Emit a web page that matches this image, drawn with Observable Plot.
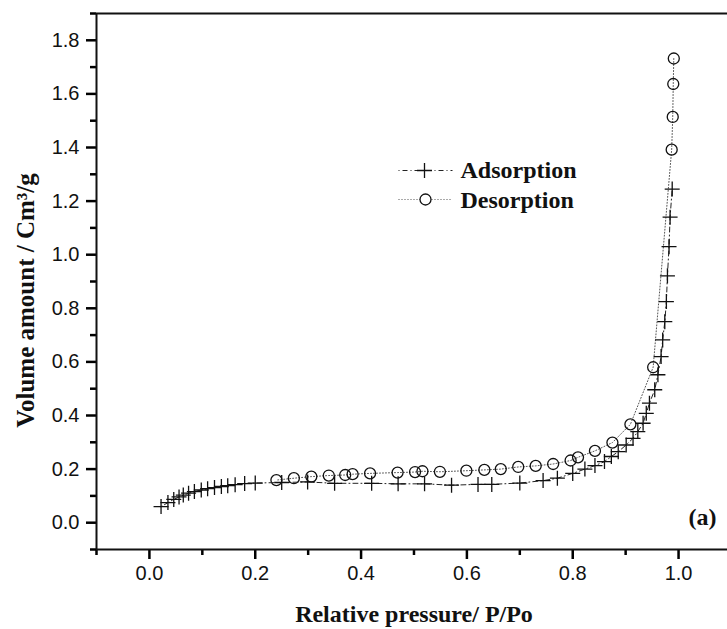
<!DOCTYPE html>
<html>
<head>
<meta charset="utf-8">
<script src="https://cdn.jsdelivr.net/npm/d3@7"></script>
<script src="https://cdn.jsdelivr.net/npm/@observablehq/plot@0.6"></script>
<style>
  html, body { margin: 0; padding: 0; background: #fff; }
</style>
</head>
<body>
<div id="chart"></div>
<script>
// N2 isotherm: relative pressure P/Po vs adsorbed volume (cm3/g)
const adsorptionP = [0.022, 0.035, 0.046, 0.056, 0.064, 0.074, 0.085, 0.098, 0.110, 0.123,
  0.136, 0.148, 0.162, 0.180, 0.200, 0.250, 0.299, 0.350, 0.420, 0.470, 0.520, 0.571,
  0.621, 0.647, 0.700, 0.744, 0.771, 0.800, 0.823, 0.842, 0.860, 0.873, 0.886, 0.901,
  0.914, 0.923, 0.933, 0.939, 0.945, 0.955, 0.961, 0.967, 0.970, 0.974, 0.977, 0.979,
  0.982, 0.984, 0.988];
const adsorptionV = [0.060, 0.075, 0.087, 0.096, 0.103, 0.110, 0.116, 0.122, 0.127, 0.131,
  0.135, 0.138, 0.142, 0.146, 0.148, 0.150, 0.152, 0.147, 0.147, 0.145, 0.145, 0.140,
  0.143, 0.143, 0.148, 0.157, 0.166, 0.184, 0.200, 0.213, 0.228, 0.247, 0.265, 0.290,
  0.315, 0.340, 0.371, 0.408, 0.446, 0.496, 0.552, 0.620, 0.682, 0.750, 0.825, 0.921,
  1.030, 1.140, 1.245];

const desorptionP = [0.991, 0.990, 0.989, 0.987, 0.952, 0.909, 0.875, 0.842, 0.810, 0.796,
  0.763, 0.730, 0.697, 0.664, 0.633, 0.599, 0.549, 0.516, 0.502, 0.469, 0.417, 0.384,
  0.370, 0.339, 0.306, 0.273, 0.240];
const desorptionV = [1.732, 1.637, 1.514, 1.392, 0.580, 0.367, 0.299, 0.268, 0.244, 0.232,
  0.219, 0.212, 0.208, 0.200, 0.197, 0.194, 0.190, 0.192, 0.189, 0.187, 0.184, 0.181,
  0.178, 0.176, 0.172, 0.166, 0.159];

const seriesNames = ["Adsorption", "Desorption"];
const panelTag = "(a)";
const xTitle = "Relative pressure/ P/Po";
const yTitle = "Volume amount / Cm\u00B3/g";

const xDomain = [-0.1, 1.0925];
const yDomain = [-0.1, 1.9];
const xTicks = [0.0, 0.2, 0.4, 0.6, 0.8, 1.0];
const xMinorTicks = [-0.1, 0.1, 0.3, 0.5, 0.7, 0.9];
const yTicks = [0.0, 0.2, 0.4, 0.6, 0.8, 1.0, 1.2, 1.4, 1.6, 1.8];
const yMinorTicks = [-0.1, 0.1, 0.3, 0.5, 0.7, 0.9, 1.1, 1.3, 1.5, 1.7, 1.9];

const adsorption = adsorptionP.map((p, i) => ({p, v: adsorptionV[i]}));
const desorption = desorptionP.map((p, i) => ({p, v: desorptionV[i]}));

// Layout
const W = 727, H = 629;
const M = {top: 13, right: 0, bottom: 80, left: 96};
const frameW = W - M.left - M.right;
const frameH = H - M.top - M.bottom;
const majorLen = 10, minorLen = 6;

// Thin "+" marker drawn as two strokes
const plusSymbol = {
  draw(context, size) {
    const r = Math.sqrt(size / Math.PI);
    context.moveTo(-r, 0); context.lineTo(r, 0);
    context.moveTo(0, -r); context.lineTo(0, r);
  }
};
// Horizontal segment used for the legend line samples
const segmentSymbol = {
  draw(context, size) {
    const r = Math.sqrt(size / Math.PI);
    context.moveTo(-r, 0); context.lineTo(r, 0);
  }
};

const serif = "'Liberation Serif', 'Times New Roman', serif";
const ink = "#000";
const adsDash = "1,3,5,3";
const desDash = "1,2";

// outward tick marks below the x axis and left of the y axis
const xTickMarks = (values, len) => Plot.tickX(values, {x: d => d, stroke: ink, strokeWidth: 2.5, insetTop: frameH, insetBottom: -len});
const yTickMarks = (values, len) => Plot.tickY(values, {y: d => d, stroke: ink, strokeWidth: 2.5, insetLeft: -len, insetRight: frameW});

const chart = Plot.plot({
  width: W,
  height: H,
  marginLeft: M.left,
  marginRight: M.right,
  marginTop: M.top,
  marginBottom: M.bottom,
  style: {fontFamily: "'Liberation Sans', Arial, sans-serif", fontSize: "20px", color: ink, background: "#fff"},
  x: {domain: xDomain},
  y: {domain: yDomain},
  marks: [
    // tick labels
    Plot.axisX(xTicks, {tickSize: 0, tickPadding: 16, tickFormat: d3.format(".1f"), label: null, fontSize: 20, fill: "#111"}),
    Plot.axisY(yTicks, {tickSize: 0, tickPadding: 17, tickFormat: d3.format(".1f"), label: null, fontSize: 20, fill: "#111"}),
    // tick marks
    xTickMarks(xTicks, majorLen),
    xTickMarks(xMinorTicks, minorLen),
    yTickMarks(yTicks, majorLen),
    yTickMarks(yMinorTicks, minorLen),
    // frame lines (left, bottom, top)
    Plot.ruleX([xDomain[0]], {stroke: "#111", strokeWidth: 2}),
    Plot.ruleY([yDomain[0], yDomain[1]], {stroke: "#111", strokeWidth: 2}),

    // desorption branch
    Plot.line(desorption, {x: "p", y: "v", stroke: "#555", strokeWidth: 1, strokeDasharray: desDash}),
    Plot.dot(desorption, {x: "p", y: "v", r: 5.5, stroke: "#111", strokeWidth: 1.3, fill: "none"}),
    // adsorption branch
    Plot.line(adsorption, {x: "p", y: "v", stroke: "#222", strokeWidth: 1, strokeDasharray: adsDash}),
    Plot.dot(adsorption, {x: "p", y: "v", symbol: plusSymbol, r: 7.5, stroke: "#111", strokeWidth: 1.3}),

    // legend
    Plot.dot([seriesNames[0]], {frameAnchor: "top-left", dx: 329, dy: 157, symbol: segmentSymbol, r: 27, stroke: "#222", strokeWidth: 1, strokeDasharray: adsDash}),
    Plot.dot([seriesNames[0]], {frameAnchor: "top-left", dx: 328, dy: 157, symbol: plusSymbol, r: 7.5, stroke: "#111", strokeWidth: 1.3}),
    Plot.text([seriesNames[0]], {frameAnchor: "top-left", dx: 364, dy: 164, text: d => d, textAnchor: "start", lineAnchor: "bottom", fontFamily: serif, fontWeight: "bold", fontSize: 24, fill: "#111"}),
    Plot.dot([seriesNames[1]], {frameAnchor: "top-left", dx: 329, dy: 186, symbol: segmentSymbol, r: 27, stroke: "#555", strokeWidth: 1, strokeDasharray: desDash}),
    Plot.dot([seriesNames[1]], {frameAnchor: "top-left", dx: 329, dy: 186, r: 5.5, stroke: "#111", strokeWidth: 1.3, fill: "#fff"}),
    Plot.text([seriesNames[1]], {frameAnchor: "top-left", dx: 364, dy: 194, text: d => d, textAnchor: "start", lineAnchor: "bottom", fontFamily: serif, fontWeight: "bold", fontSize: 24, fill: "#111"}),

    // panel tag
    Plot.text([panelTag], {frameAnchor: "bottom-right", dx: -11, dy: -25, text: d => d, textAnchor: "end", lineAnchor: "bottom", fontFamily: serif, fontWeight: "bold", fontSize: 24, fill: "#111"}),

    // axis titles
    Plot.text([xTitle], {frameAnchor: "bottom", dx: 2, dy: 72, text: d => d, textAnchor: "middle", lineAnchor: "bottom", fontFamily: serif, fontWeight: "bold", fontSize: 24, fill: "#111"}),
    Plot.text([yTitle], {frameAnchor: "left", dx: -71, dy: 19, text: d => d, rotate: -90, textAnchor: "middle", lineAnchor: "middle", fontFamily: serif, fontWeight: "bold", fontSize: 25, fill: "#111"})
  ]
});

document.getElementById("chart").appendChild(chart);
</script>
</body>
</html>
